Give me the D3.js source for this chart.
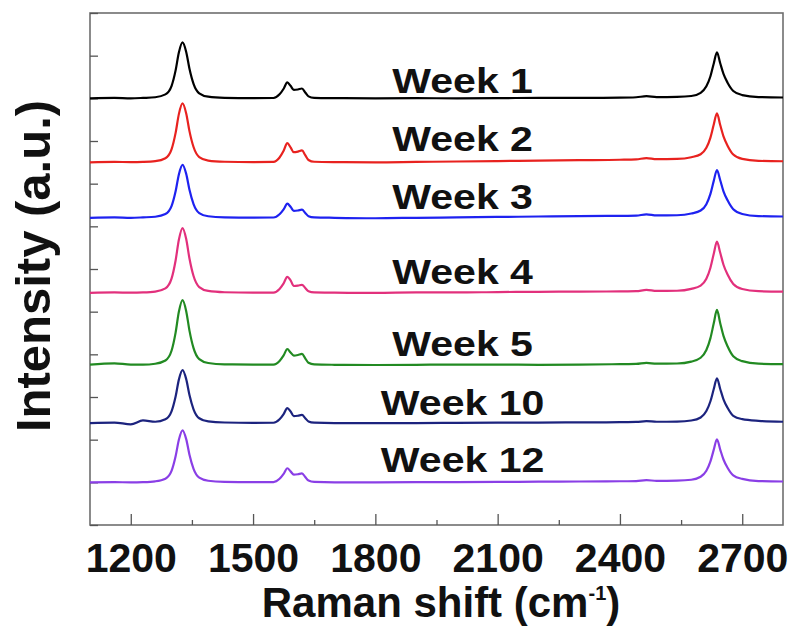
<!DOCTYPE html>
<html><head><meta charset="utf-8">
<script src="https://cdn.jsdelivr.net/npm/d3@7"></script>
<style>html,body{margin:0;padding:0;background:#fff;}</style>
</head><body><svg id="c" width="794" height="629"></svg>
<script>
// ---- data ----
const weeks = ["Week 1","Week 2","Week 3","Week 4","Week 5","Week 10","Week 12"];
const shift = [1100,1160,1200,1230,1260,1285,1300,1310,1318,1327,1336,1344,1354,1368,1390,1430,1500,
  1550,1565,1575,1584,1592,1600,1610,1620,1628,1636,1650,1700,
  1800,1900,2000,2100,2200,2300,2400,2440,2465,2490,2540,2575,2598,2612,2622,2630,2638,2646,2654,2664,2678,2700,2740,2800];
const offsets = [100, 85, 72, 54.4, 37.5, 23.9, 10];
const week1 = [0,0.1,0,0.1, 0.26,0.92,2.88,6.55,10.74,13.1,10.87,6.94,3.41,1.18,0.39,0.13,0.05,
  0.08,0.94,2.25,3.75,2.93,1.96,2.07,2.3,1.38,0.46,0.12,0.05,
  0,0.05,0,0.05,0.1,0.1,0.15, 0.25,0.5,0.3,0.35,0.54,1.3,2.81,5.18,8.1,10.8,8.21,5.72,3.67,1.73,0.76,0.3,0.2];
const week2 = [0,0.1,0.05,0.1, 0.28,0.97,3.04,6.9,11.3,13.8,11.45,7.31,3.59,1.24,0.41,0.14,0.05,
  0.09,1.13,2.7,4.5,3.51,2.38,2.52,2.8,1.68,0.56,0.14,0.05,
  0,0.1,0.2,0.3,0.4,0.5,0.6, 0.7,1.0,0.75,0.8,1.2,1.9,3.4,5.8,8.8,11.5,8.74,6.1,3.91,1.84,0.8,0.35,0.25];
const week3 = [0,0.1,0,0.1, 0.25,0.87,2.73,6.2,10.17,12.4,10.29,6.57,3.22,1.12,0.37,0.12,0.05,
  0.07,0.83,1.98,3.3,2.57,1.62,1.71,1.9,1.14,0.38,0.1,0,
  -0.1,0,0.1,0.2,0.3,0.4,0.45, 0.5,0.8,0.55,0.6,1.0,1.7,3.2,5.6,8.6,11.2,8.8,6.2,4.1,2.0,0.9,0.4,0.3];
const week4 = [0,0.1,0.05,0.1, 0.3,1.06,3.34,7.6,12.46,15.2,12.62,8.06,3.95,1.37,0.46,0.15,0.05,
  0.08,0.94,2.25,3.75,2.93,1.62,1.71,1.9,1.14,0.38,0.1,0.05,
  0,0.1,0.1,0.2,0.25,0.3,0.35, 0.4,0.7,0.45,0.5,0.95,1.7,3.3,5.9,9.1,12,9.4,6.6,4.3,2.1,0.9,0.4,0.3];
const week5 = [0.1,0.4,0.1,0.1, 0.3,1.06,3.34,7.6,12.46,15.2,12.62,8.06,3.95,1.37,0.46,0.15,0.1,
  0.08,0.94,2.25,3.75,2.93,2.21,2.34,2.6,1.56,0.52,0.13,0.05,
  0,0.05,0.1,0.1,0.05,0.1,0.2, 0.25,0.5,0.3,0.35,0.8,1.7,3.5,6.3,9.7,12.9,9.8,6.84,4.39,2.06,0.9,0.3,0.2];
const week10 = [0,0.1,-0.3,0.6, 0.3,0.87,2.73,6.2,10.17,12.4,10.29,6.57,3.22,1.12,0.37,0.12,0.05,
  0.07,0.88,2.1,3.5,2.73,1.62,1.71,1.9,1.14,0.38,0.1,0,
  0,0,0.05,0.1,0.1,0.15,0.2, 0.25,0.45,0.3,0.35,0.6,1.3,2.8,5.1,7.9,10.5,7.98,5.57,3.57,1.68,0.9,0.5,0.3];
const week12 = [0,0.05,0,0.05, 0.24,0.85,2.68,6.1,10.0,12.2,10.13,6.47,3.17,1.1,0.37,0.12,0.05,
  0.07,0.83,1.98,3.3,2.57,1.79,1.89,2.1,1.26,0.42,0.1,0,
  0,0.05,0.05,0.1,0.15,0.2,0.25, 0.3,0.5,0.35,0.4,0.6,1.3,2.7,4.9,7.6,10.1,7.68,5.35,3.43,1.62,0.8,0.3,0.2];
const xTicks = [1200,1500,1800,2100,2400,2700];
const xMinorTicks = [1350,1650,1950,2250,2550];
const yTicks = [0,10,20,30,40,50,60,70,80,90,100,110,120];

// ---- styles / layout ----
const series = [week1,week2,week3,week4,week5,week10,week12];
const colors = ["#000000","#e8221f","#1e22f0","#e2307c","#228a22","#1c237e","#8a3fe6"];
const labelGap = [5,11,9,9,9,8,10];

const svg = d3.select("#c");
const L=90,R=783,T=13,B=525;
const x = d3.scaleLinear().domain([1100,2800]).range([L,R]);
const y = d3.scaleLinear().domain([0,120]).range([B,T]);
const font = "'Liberation Sans', Arial, Helvetica, sans-serif";

// frame
svg.append("rect").attr("x",L).attr("y",T).attr("width",R-L).attr("height",B-T)
  .attr("fill","none").attr("stroke","#6e6e6e").attr("stroke-width",1.6);

// x axis ticks (inward)
const gx = svg.append("g").attr("transform",`translate(0,${B})`);
gx.call(d3.axisBottom(x).tickValues(xTicks).tickSize(-11).tickFormat(d3.format("d")).tickPadding(20));
gx.select(".domain").remove();
gx.selectAll(".tick line").attr("stroke","#555").attr("stroke-width",1.3);
gx.selectAll(".tick text").attr("font-family",font).attr("font-weight","bold")
  .attr("font-size",41).attr("fill","#111").attr("dy",0).attr("y",47);
const gxm = svg.append("g").attr("transform",`translate(0,${B})`);
gxm.call(d3.axisBottom(x).tickValues(xMinorTicks).tickSize(-5).tickFormat(""));
gxm.select(".domain").remove();
gxm.selectAll(".tick line").attr("stroke","#555").attr("stroke-width",1.3);

// y axis ticks (inward, no labels)
const gy = svg.append("g").attr("transform",`translate(${L},0)`);
gy.call(d3.axisLeft(y).tickValues(yTicks).tickSize(-8).tickFormat(""));
gy.select(".domain").remove();
gy.selectAll(".tick line").attr("stroke","#555").attr("stroke-width",1.3);

// spectra
const line = d3.line().x(d=>x(d[0])).y(d=>y(d[1])).curve(d3.curveMonotoneX);
series.forEach((s,i)=>{
  const pts = shift.map((w,j)=>[w, offsets[i]+s[j]]);
  svg.append("path").attr("d",line(pts)).attr("fill","none")
    .attr("stroke",colors[i]).attr("stroke-width",2.2).attr("stroke-linejoin","round");
});

// labels
weeks.forEach((w,i)=>{
  svg.append("g").attr("transform",`translate(${x(2014)},${y(offsets[i])-labelGap[i]})`)
    .append("text").attr("transform","scale(1.14,1)").attr("text-anchor","middle")
    .attr("font-family",font).attr("font-weight","bold").attr("font-size",36).attr("fill","#111")
    .text(w);
});

// axis titles
const xt = svg.append("text").attr("x",441).attr("y",617).attr("text-anchor","middle")
  .attr("font-family",font).attr("font-weight","bold").attr("font-size",42).attr("fill","#111");
xt.append("tspan").text("Raman shift (cm");
xt.append("tspan").attr("font-size",20).attr("dy",-17).text("-1");
xt.append("tspan").attr("dy",17).text(")");

svg.append("text").attr("transform","translate(50,266) rotate(-90)").attr("text-anchor","middle")
  .attr("font-family",font).attr("font-weight","bold").attr("font-size",49).attr("fill","#111")
  .text("Intensity (a.u.)");
</script></body></html>
